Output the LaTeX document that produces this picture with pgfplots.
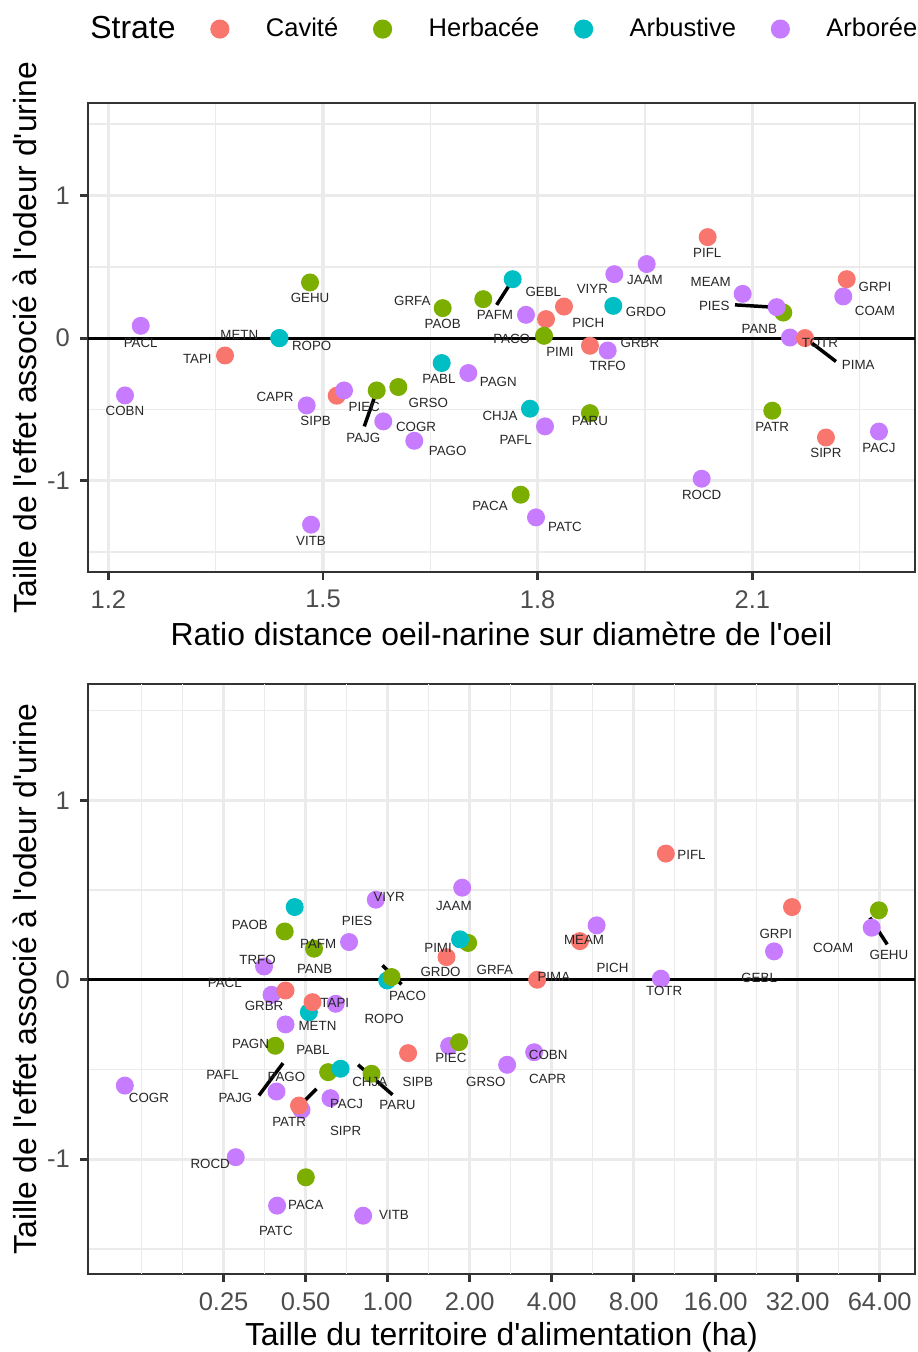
\documentclass[border=0pt]{standalone}
\usepackage{fontspec}
\setmainfont{Liberation Sans}
\usepackage{pgfplots}
\usepackage{pgfplotstable}
\pgfplotsset{compat=1.18}

\definecolor{cRed}{HTML}{F8766D}
\definecolor{cGreen}{HTML}{7CAE00}
\definecolor{cCyan}{HTML}{00BFC4}
\definecolor{cPurple}{HTML}{C77CFF}
\definecolor{grid92}{HTML}{EBEBEB}
\definecolor{gray20}{HTML}{333333}
\definecolor{gray30}{HTML}{4D4D4D}

\newcommand{\tickf}{\fontsize{8.8}{10}\selectfont}
\newcommand{\titlef}{\fontsize{11}{13}\selectfont}
\newcommand{\lblf}{\fontsize{4.6}{5.5}\selectfont}
\newcommand{\q}{\textquotesingle}

% strate: c = Cavite, h = Herbacee, b = Arbustive, a = Arboree
\pgfplotstableread{
x y s
1.5192 -0.404 c
2.1433 0.179 h
2.1526 0.004 a
1.2453 0.086 a
1.3631 -0.122 c
1.4819 0.390 h
1.4390 0.000 b
1.4390 0.000 b
1.6673 0.210 h
1.7240 0.273 h
1.7651 0.413 b
1.7837 0.163 a
1.8117 0.133 c
1.8368 0.221 c
1.8089 0.016 h
1.8731 -0.054 c
1.8979 -0.087 a
1.9071 0.448 a
1.9524 0.519 a
1.9057 0.226 b
2.0376 0.708 c
2.0865 0.310 a
2.1340 0.217 a
2.1736 0.000 c
2.2319 0.413 c
2.2271 0.292 a
1.7893 -0.495 b
1.8731 -0.526 h
1.8103 -0.619 a
2.1279 -0.509 h
2.2029 -0.697 c
2.2770 -0.655 a
2.0292 -0.986 a
1.7763 -1.098 h
1.7977 -1.257 a
1.2233 -0.402 a
1.4772 -0.472 a
1.5294 -0.367 a
1.5751 -0.367 h
1.6053 -0.343 h
1.5843 -0.584 a
1.6276 -0.720 a
1.4833 -1.308 a
1.6659 -0.175 b
1.7031 -0.245 a
}\toppts

\pgfplotstableread{
x y t
1.2453 -0.031 PACL
1.3831 0.023 METN
1.3244 -0.147 TAPI
1.4842 -0.052 ROPO
1.4819 0.280 GEHU
1.6248 0.263 GRFA
1.6673 0.100 PAOB
1.6621 -0.287 PABL
1.7450 -0.304 PAGN
1.7404 0.163 PAFM
1.8079 0.322 GEBL
1.8764 0.343 VIYR
1.9500 0.409 JAAM
1.8708 0.109 PICH
1.9514 0.182 GRDO
1.7637 -0.007 PACO
1.8312 -0.094 PIMI
1.9430 -0.035 GRBR
1.8979 -0.194 TRFO
2.0371 0.600 PIFL
2.0418 0.397 MEAM
2.0468 0.228 PIES
2.1097 0.065 PANB
2.1945 -0.031 TOTR
2.2481 -0.187 PIMA
2.2714 0.357 GRPI
2.2714 0.191 COAM
1.2233 -0.514 COBN
1.4330 -0.413 CAPR
1.4898 -0.580 SIPB
1.5577 -0.479 PIEC
1.6472 -0.451 GRSO
1.6300 -0.624 COGR
1.5563 -0.697 PAJG
1.6743 -0.788 PAGO
1.4833 -1.420 VITB
1.7474 -0.544 CHJA
1.8731 -0.584 PARU
1.7693 -0.713 PAFL
2.1279 -0.624 PATR
2.2029 -0.806 SIPR
2.2770 -0.771 PACJ
2.0292 -1.098 ROCD
1.7334 -1.175 PACA
1.8382 -1.324 PATC
}\toplbl

\pgfplotstableread{
x y s
0.483 -0.725 a
0.473 -0.701 c
1.682 -0.369 a
1.830 -0.348 h
1.975 0.205 h
1.845 0.225 b
0.996 -0.004 b
1.034 0.015 h
0.375 -0.084 a
0.422 -0.060 c
0.514 -0.181 b
0.530 -0.125 c
0.605 -0.515 h
0.672 -0.496 b
1.645 0.126 c
1.189 -0.409 c
10.50 0.703 c
5.08 0.215 c
3.54 0.000 c
30.5 0.405 c
0.419 0.269 h
0.537 0.173 h
0.387 -0.368 h
59.8 0.290 a
63.56 0.387 h
0.873 -0.524 h
0.501 -1.101 h
0.456 0.405 b
0.722 0.210 a
0.905 0.446 a
1.878 0.513 a
0.352 0.074 a
0.645 -0.134 a
0.422 -0.249 a
5.85 0.303 a
10.07 0.006 a
26.2 0.158 a
0.1085 -0.590 a
0.391 -0.623 a
0.617 -0.660 a
0.277 -0.989 a
0.393 -1.259 a
0.813 -1.315 a
2.746 -0.474 a
3.45 -0.404 a
}\botpts

\pgfplotstableread{
x y t
0.312 0.303 PAOB
0.556 0.197 PAFM
0.773 0.327 PIES
1.013 0.461 VIYR
1.750 0.409 JAAM
1.532 0.178 PIMI
0.333 0.113 TRFO
0.540 0.061 PANB
1.565 0.046 GRDO
0.2526 -0.019 PACL
0.352 -0.147 GRBR
0.640 -0.131 TAPI
0.553 -0.259 METN
0.971 -0.218 ROPO
1.183 -0.088 PACO
0.314 -0.357 PAGN
0.532 -0.389 PABL
13.05 0.693 PIFL
5.26 0.223 MEAM
2.474 0.052 GRFA
4.075 0.015 PIMA
6.69 0.065 PICH
10.35 -0.065 TOTR
23.1 0.009 GEBL
26.6 0.257 GRPI
43.2 0.178 COAM
69.2 0.139 GEHU
0.2477 -0.530 PAFL
0.425 -0.543 PAGO
0.2763 -0.660 PAJG
0.860 -0.567 CHJA
1.291 -0.567 SIPB
0.707 -0.692 PACJ
1.087 -0.697 PARU
0.435 -0.790 PATR
0.701 -0.840 SIPR
0.1331 -0.658 COGR
0.2232 -1.026 ROCD
0.5007 -1.255 PACA
0.389 -1.398 PATC
1.056 -1.311 VITB
1.706 -0.437 PIEC
3.883 -0.418 COBN
3.864 -0.552 CAPR
2.294 -0.567 GRSO
}\botlbl

\pgfplotsset{
  panel/.style={
    scale only axis, width=285.3pt,
    axis line style={gray20, line width=0.6pt},
    tick style={gray20, line width=1.0pt},
    tick align=outside, tick pos=left,
    major tick length=2.75pt, minor tick length=0pt,
    grid=both,
    major grid style={grid92, line width=1.07pt},
    minor grid style={grid92, line width=0.53pt},
    ymin=-1.64, ymax=1.648,
    ytick={-1,0,1}, yticklabels={-1,0,1},
    minor ytick={-1.5,-0.5,0.5,1.5},
    ticklabel style={font=\tickf, text=gray30},
    label style={font=\titlef, text=black},
    ylabel={Taille de l\q effet associé à l\q odeur d\q urine},
    ylabel style={at={(axis description cs:-0.0617,0.5)}, anchor=base, rotate=0},
    scatter/classes={
      c={mark=*, draw=cRed, fill=cRed},
      h={mark=*, draw=cGreen, fill=cGreen},
      b={mark=*, draw=cCyan, fill=cCyan},
      a={mark=*, draw=cPurple, fill=cPurple}},
  },
  pts/.style={scatter, only marks, scatter src=explicit symbolic, mark=*, mark size=2.9pt, forget plot},
  lbls/.style={only marks, mark=none, forget plot, nodes near coords, point meta=explicit symbolic,
    nodes near coords style={anchor=center, font=\lblf, text=black!85, inner sep=0pt}},
  seg/.style={black, line width=1.2pt, forget plot},
}

\begin{document}
\begin{tikzpicture}
\path[use as bounding box] (0,0) rectangle (316.37pt,-466.44pt);

\begin{axis}[panel,
  at={(30.36pt,-35.54pt)}, anchor=north west, height=161.8pt,
  xmin=1.1716, xmax=2.3273,
  xtick={1.2,1.5,1.8,2.1}, xticklabels={1.2,1.5,1.8,2.1},
  minor xtick={1.35,1.65,1.95,2.25},
  xlabel={Ratio distance oeil-narine sur diamètre de l\q oeil},
  xlabel style={at={(axis description cs:0.5,-0.1557)}, anchor=base},
  legend columns=5,
  legend style={draw=none, fill=none, inner sep=0pt, outer sep=0pt,
    at={(axis description cs:-0.0412,1.1577)}, anchor=west, font=\tickf,
    /tikz/every odd column/.append style={column sep=10.6pt},
    /tikz/every even column/.append style={column sep=10.0pt}},
]
\addlegendimage{legend image code/.code={}}
\addlegendentry{\titlef Strate}
\addlegendimage{legend image code/.code={\fill[cRed] (0,0) circle (3.1pt);}}
\addlegendentry{Cavité}
\addlegendimage{legend image code/.code={\fill[cGreen] (0,0) circle (3.1pt);}}
\addlegendentry{Herbacée}
\addlegendimage{legend image code/.code={\fill[cCyan] (0,0) circle (3.1pt);}}
\addlegendentry{Arbustive}
\addlegendimage{legend image code/.code={\fill[cPurple] (0,0) circle (3.1pt);}}
\addlegendentry{Arborée}

\addplot[black, line width=1.07pt, forget plot] coordinates {(1.1716,0) (2.3273,0)};
\addplot[pts] table[x=x, y=y, meta=s] {\toppts};
\addplot[seg] coordinates {(1.7427,0.233) (1.7637,0.397)};
\addplot[seg] coordinates {(2.0758,0.233) (2.1284,0.217)};
\addplot[seg] coordinates {(2.1760,-0.007) (2.2169,-0.164)};
\addplot[seg] coordinates {(1.5577,-0.619) (1.5741,-0.385)};
\addplot[lbls] table[x=x, y=y, meta=t] {\toplbl};
\end{axis}

\begin{axis}[panel,
  at={(30.36pt,-235.98pt)}, anchor=north west, height=203.55pt,
  xmode=log, xminorgrids=false,
  xmin=0.0795, xmax=86.2,
  xtick={0.25,0.5,1,2,4,8,16,32,64},
  xticklabels={0.25,0.50,1.00,2.00,4.00,8.00,16.00,32.00,64.00},
  extra x ticks={0.125,0.1768,0.3536,0.7071,1.4142,2.8284,5.6569,11.3137,22.6274,45.2548},
  extra x tick labels={},
  extra x tick style={major tick length=0pt, major grid style={grid92, line width=0.53pt}},
  xlabel={Taille du territoire d\q alimentation (ha)},
  xlabel style={at={(axis description cs:0.5,-0.1204)}, anchor=base},
]
\addplot[black, line width=1.07pt, forget plot] coordinates {(0.0795,0) (86.2,0)};
\addplot[pts] table[x=x, y=y, meta=s] {\botpts};
\addplot[seg] coordinates {(0.958,0.080) (1.1246,-0.026)};
\addplot[seg] coordinates {(58.9,0.346) (68.2,0.197)};
\addplot[seg] coordinates {(0.337,-0.645) (0.4131,-0.465)};
\addplot[seg] coordinates {(0.4564,-0.729) (0.5483,-0.608)};
\addplot[seg] coordinates {(0.7792,-0.474) (1.0423,-0.641)};
\addplot[lbls] table[x=x, y=y, meta=t] {\botlbl};
\end{axis}
\end{tikzpicture}
\end{document}
